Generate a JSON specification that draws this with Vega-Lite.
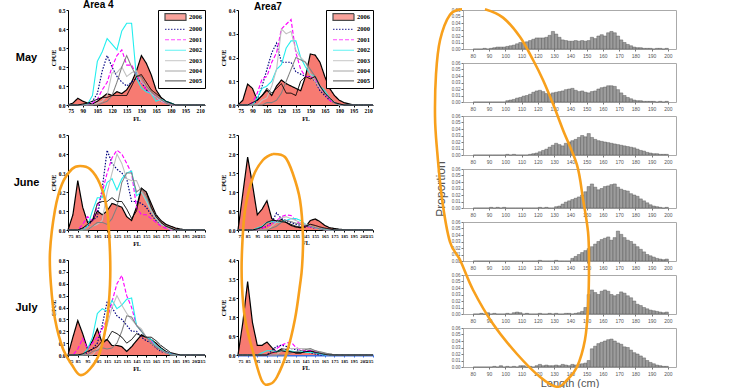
{
"$schema":"https://vega.github.io/schema/vega-lite/v6.json",
"background":"white",
"padding":{"left":0,"top":0,"right":0,"bottom":0},
"config":{
 "view":{"stroke":null},
 "axis":{"labelFont":"Liberation Serif","labelFontWeight":"bold","labelFontSize":5.5,"labelColor":"black","titleFont":"Liberation Serif","titleFontWeight":"bold","titleFontSize":6,"titleColor":"black","domainColor":"black","domainWidth":1,"tickColor":"black","tickSize":2,"labelPadding":1,"titlePadding":2,"grid":false,"labelOverlap":false,"labelBound":false}
},
"datasets":{
"cpue":[
{"p":"M4","x":75,"2006":0,"2000":0,"2001":0,"2002":0,"2003":0,"2004":0,"2005":0},
{"p":"M4","x":80,"2006":0.01,"2000":0,"2001":0,"2002":0,"2003":0,"2004":0,"2005":0},
{"p":"M4","x":85,"2006":0.035,"2000":0,"2001":0,"2002":0,"2003":0,"2004":0,"2005":0},
{"p":"M4","x":90,"2006":0.02,"2000":0,"2001":0,"2002":0,"2003":0,"2004":0,"2005":0.005},
{"p":"M4","x":95,"2006":0.01,"2000":0.005,"2001":0,"2002":0.005,"2003":0,"2004":0,"2005":0.01},
{"p":"M4","x":100,"2006":0.005,"2000":0.02,"2001":0.01,"2002":0.05,"2003":0,"2004":0,"2005":0.02},
{"p":"M4","x":105,"2006":0.02,"2000":0.06,"2001":0.03,"2002":0.23,"2003":0.01,"2004":0,"2005":0.03},
{"p":"M4","x":110,"2006":0.04,"2000":0.18,"2001":0.08,"2002":0.28,"2003":0.02,"2004":0.01,"2005":0.04},
{"p":"M4","x":115,"2006":0.06,"2000":0.26,"2001":0.12,"2002":0.35,"2003":0.05,"2004":0.02,"2005":0.04},
{"p":"M4","x":120,"2006":0.05,"2000":0.2,"2001":0.2,"2002":0.32,"2003":0.17,"2004":0.05,"2005":0.05},
{"p":"M4","x":125,"2006":0.07,"2000":0.15,"2001":0.26,"2002":0.29,"2003":0.17,"2004":0.12,"2005":0.05},
{"p":"M4","x":130,"2006":0.06,"2000":0.12,"2001":0.29,"2002":0.39,"2003":0.2,"2004":0.2,"2005":0.05},
{"p":"M4","x":135,"2006":0.08,"2000":0.1,"2001":0.21,"2002":0.43,"2003":0.15,"2004":0.26,"2005":0.05},
{"p":"M4","x":140,"2006":0.12,"2000":0.12,"2001":0.21,"2002":0.43,"2003":0.17,"2004":0.2,"2005":0.1},
{"p":"M4","x":145,"2006":0.18,"2000":0.14,"2001":0.16,"2002":0.14,"2003":0.18,"2004":0.15,"2005":0.15},
{"p":"M4","x":150,"2006":0.26,"2000":0.12,"2001":0.12,"2002":0.09,"2003":0.12,"2004":0.15,"2005":0.16},
{"p":"M4","x":155,"2006":0.22,"2000":0.08,"2001":0.08,"2002":0.07,"2003":0.1,"2004":0.1,"2005":0.12},
{"p":"M4","x":160,"2006":0.16,"2000":0.06,"2001":0.06,"2002":0.06,"2003":0.06,"2004":0.07,"2005":0.08},
{"p":"M4","x":165,"2006":0.08,"2000":0.04,"2001":0.04,"2002":0.02,"2003":0.04,"2004":0.05,"2005":0.06},
{"p":"M4","x":170,"2006":0.04,"2000":0.02,"2001":0.02,"2002":0.03,"2003":0.02,"2004":0.03,"2005":0.04},
{"p":"M4","x":175,"2006":0.02,"2000":0.01,"2001":0.01,"2002":0.02,"2003":0.01,"2004":0.01,"2005":0.02},
{"p":"M4","x":180,"2006":0.01,"2000":0,"2001":0,"2002":0.01,"2003":0,"2004":0,"2005":0.01},
{"p":"M4","x":185,"2006":0,"2000":0,"2001":0,"2002":0,"2003":0,"2004":0,"2005":0},
{"p":"M4","x":190,"2006":0,"2000":0,"2001":0,"2002":0,"2003":0,"2004":0,"2005":0},
{"p":"M4","x":195,"2006":0,"2000":0,"2001":0,"2002":0,"2003":0,"2004":0,"2005":0},
{"p":"M4","x":200,"2006":0,"2000":0,"2001":0,"2002":0,"2003":0,"2004":0,"2005":0},
{"p":"M4","x":205,"2006":0,"2000":0,"2001":0,"2002":0,"2003":0,"2004":0,"2005":0},
{"p":"M4","x":210,"2006":0,"2000":0,"2001":0,"2002":0,"2003":0,"2004":0,"2005":0},
{"p":"M4","x":215,"2006":0,"2000":0,"2001":0,"2002":0,"2003":0,"2004":0,"2005":0},
{"p":"M7","x":75,"2006":0,"2000":0,"2001":0,"2002":0,"2003":0,"2004":0,"2005":0},
{"p":"M7","x":80,"2006":0.02,"2000":0,"2001":0,"2002":0,"2003":0,"2004":0,"2005":0},
{"p":"M7","x":85,"2006":0.088,"2000":0,"2001":0,"2002":0,"2003":0,"2004":0,"2005":0},
{"p":"M7","x":90,"2006":0.07,"2000":0,"2001":0.01,"2002":0,"2003":0,"2004":0,"2005":0.01},
{"p":"M7","x":95,"2006":0.02,"2000":0.02,"2001":0.05,"2002":0.03,"2003":0,"2004":0,"2005":0.02},
{"p":"M7","x":100,"2006":0.04,"2000":0.08,"2001":0.11,"2002":0.07,"2003":0.02,"2004":0,"2005":0.04},
{"p":"M7","x":105,"2006":0.063,"2000":0.15,"2001":0.12,"2002":0.08,"2003":0.03,"2004":0.01,"2005":0.07},
{"p":"M7","x":110,"2006":0.04,"2000":0.22,"2001":0.18,"2002":0.1,"2003":0.08,"2004":0.01,"2005":0.05},
{"p":"M7","x":115,"2006":0.08,"2000":0.26,"2001":0.22,"2002":0.15,"2003":0.15,"2004":0.02,"2005":0.07},
{"p":"M7","x":120,"2006":0.105,"2000":0.18,"2001":0.32,"2002":0.17,"2003":0.32,"2004":0.05,"2005":0.09},
{"p":"M7","x":125,"2006":0.09,"2000":0.18,"2001":0.34,"2002":0.24,"2003":0.3,"2004":0.1,"2005":0.05},
{"p":"M7","x":130,"2006":0.08,"2000":0.18,"2001":0.36,"2002":0.27,"2003":0.31,"2004":0.15,"2005":0.05},
{"p":"M7","x":135,"2006":0.07,"2000":0.14,"2001":0.22,"2002":0.27,"2003":0.23,"2004":0.2,"2005":0.04},
{"p":"M7","x":140,"2006":0.06,"2000":0.13,"2001":0.15,"2002":0.2,"2003":0.2,"2004":0.19,"2005":0.1},
{"p":"M7","x":145,"2006":0.12,"2000":0.12,"2001":0.12,"2002":0.16,"2003":0.18,"2004":0.18,"2005":0.12},
{"p":"M7","x":150,"2006":0.215,"2000":0.12,"2001":0.12,"2002":0.13,"2003":0.13,"2004":0.15,"2005":0.11},
{"p":"M7","x":155,"2006":0.21,"2000":0.1,"2001":0.11,"2002":0.12,"2003":0.1,"2004":0.12,"2005":0.12},
{"p":"M7","x":160,"2006":0.18,"2000":0.06,"2001":0.07,"2002":0.08,"2003":0.07,"2004":0.08,"2005":0.08},
{"p":"M7","x":165,"2006":0.12,"2000":0.04,"2001":0.05,"2002":0.06,"2003":0.05,"2004":0.05,"2005":0.05},
{"p":"M7","x":170,"2006":0.07,"2000":0.02,"2001":0.02,"2002":0.03,"2003":0.03,"2004":0.03,"2005":0.03},
{"p":"M7","x":175,"2006":0.04,"2000":0.01,"2001":0.01,"2002":0.01,"2003":0.01,"2004":0.01,"2005":0.01},
{"p":"M7","x":180,"2006":0.02,"2000":0,"2001":0,"2002":0,"2003":0,"2004":0,"2005":0.005},
{"p":"M7","x":185,"2006":0.01,"2000":0,"2001":0,"2002":0,"2003":0,"2004":0,"2005":0},
{"p":"M7","x":190,"2006":0.005,"2000":0,"2001":0,"2002":0,"2003":0,"2004":0,"2005":0},
{"p":"M7","x":195,"2006":0,"2000":0,"2001":0,"2002":0,"2003":0,"2004":0,"2005":0},
{"p":"M7","x":200,"2006":0,"2000":0,"2001":0,"2002":0,"2003":0,"2004":0,"2005":0},
{"p":"M7","x":205,"2006":0,"2000":0,"2001":0,"2002":0,"2003":0,"2004":0,"2005":0},
{"p":"M7","x":210,"2006":0,"2000":0,"2001":0,"2002":0,"2003":0,"2004":0,"2005":0},
{"p":"M7","x":215,"2006":0,"2000":0,"2001":0,"2002":0,"2003":0,"2004":0,"2005":0},
{"p":"J4","x":75,"2006":0,"2000":0,"2001":0,"2002":0,"2003":0,"2004":0,"2005":0},
{"p":"J4","x":80,"2006":0.08,"2000":0,"2001":0,"2002":0,"2003":0,"2004":0,"2005":0},
{"p":"J4","x":85,"2006":0.26,"2000":0,"2001":0,"2002":0,"2003":0,"2004":0,"2005":0},
{"p":"J4","x":90,"2006":0.12,"2000":0.01,"2001":0.03,"2002":0,"2003":0,"2004":0,"2005":0.01},
{"p":"J4","x":95,"2006":0.04,"2000":0.02,"2001":0.07,"2002":0.02,"2003":0,"2004":0,"2005":0.03},
{"p":"J4","x":100,"2006":0.05,"2000":0.05,"2001":0.05,"2002":0.1,"2003":0.02,"2004":0.02,"2005":0.05},
{"p":"J4","x":105,"2006":0.1,"2000":0.07,"2001":0.12,"2002":0.17,"2003":0.03,"2004":0.04,"2005":0.14},
{"p":"J4","x":110,"2006":0.08,"2000":0.22,"2001":0.2,"2002":0.17,"2003":0.05,"2004":0.04,"2005":0.15},
{"p":"J4","x":115,"2006":0.1,"2000":0.42,"2001":0.3,"2002":0.25,"2003":0.2,"2004":0.03,"2005":0.15},
{"p":"J4","x":120,"2006":0.14,"2000":0.35,"2001":0.38,"2002":0.27,"2003":0.3,"2004":0.06,"2005":0.17},
{"p":"J4","x":125,"2006":0.13,"2000":0.32,"2001":0.42,"2002":0.21,"2003":0.4,"2004":0.12,"2005":0.15},
{"p":"J4","x":130,"2006":0.12,"2000":0.3,"2001":0.4,"2002":0.27,"2003":0.35,"2004":0.25,"2005":0.15},
{"p":"J4","x":135,"2006":0.07,"2000":0.27,"2001":0.35,"2002":0.3,"2003":0.27,"2004":0.3,"2005":0.11},
{"p":"J4","x":140,"2006":0.05,"2000":0.15,"2001":0.3,"2002":0.31,"2003":0.26,"2004":0.3,"2005":0.06},
{"p":"J4","x":145,"2006":0.12,"2000":0.15,"2001":0.12,"2002":0.18,"2003":0.26,"2004":0.2,"2005":0.1},
{"p":"J4","x":150,"2006":0.22,"2000":0.14,"2001":0.08,"2002":0.2,"2003":0.2,"2004":0.22,"2005":0.22},
{"p":"J4","x":155,"2006":0.2,"2000":0.12,"2001":0.08,"2002":0.16,"2003":0.15,"2004":0.18,"2005":0.2},
{"p":"J4","x":160,"2006":0.14,"2000":0.08,"2001":0.06,"2002":0.1,"2003":0.1,"2004":0.12,"2005":0.12},
{"p":"J4","x":165,"2006":0.08,"2000":0.05,"2001":0.04,"2002":0.06,"2003":0.06,"2004":0.07,"2005":0.07},
{"p":"J4","x":170,"2006":0.05,"2000":0.03,"2001":0.02,"2002":0.03,"2003":0.03,"2004":0.04,"2005":0.04},
{"p":"J4","x":175,"2006":0.03,"2000":0.02,"2001":0.01,"2002":0.02,"2003":0.02,"2004":0.02,"2005":0.02},
{"p":"J4","x":180,"2006":0.02,"2000":0.01,"2001":0,"2002":0.01,"2003":0,"2004":0.01,"2005":0.01},
{"p":"J4","x":185,"2006":0.01,"2000":0,"2001":0,"2002":0,"2003":0,"2004":0,"2005":0},
{"p":"J4","x":190,"2006":0.005,"2000":0,"2001":0,"2002":0,"2003":0,"2004":0,"2005":0},
{"p":"J4","x":195,"2006":0,"2000":0,"2001":0,"2002":0,"2003":0,"2004":0,"2005":0},
{"p":"J4","x":200,"2006":0,"2000":0,"2001":0,"2002":0,"2003":0,"2004":0,"2005":0},
{"p":"J4","x":205,"2006":0,"2000":0,"2001":0,"2002":0,"2003":0,"2004":0,"2005":0},
{"p":"J4","x":210,"2006":0,"2000":0,"2001":0,"2002":0,"2003":0,"2004":0,"2005":0},
{"p":"J4","x":215,"2006":0,"2000":0,"2001":0,"2002":0,"2003":0,"2004":0,"2005":0},
{"p":"J7","x":75,"2006":0,"2000":0,"2001":0,"2002":0,"2003":0,"2004":0,"2005":0},
{"p":"J7","x":80,"2006":0.96,"2000":0,"2001":0,"2002":0,"2003":0,"2004":0,"2005":0},
{"p":"J7","x":85,"2006":1.92,"2000":0,"2001":0,"2002":0,"2003":0,"2004":0,"2005":0},
{"p":"J7","x":90,"2006":1.2,"2000":0,"2001":0,"2002":0,"2003":0,"2004":0,"2005":0},
{"p":"J7","x":95,"2006":0.4,"2000":0,"2001":0,"2002":0.05,"2003":0,"2004":0,"2005":0.03},
{"p":"J7","x":100,"2006":0.55,"2000":0.05,"2001":0.05,"2002":0.1,"2003":0,"2004":0,"2005":0.08},
{"p":"J7","x":105,"2006":0.77,"2000":0.1,"2001":0.1,"2002":0.2,"2003":0,"2004":0,"2005":0.2},
{"p":"J7","x":110,"2006":0.3,"2000":0.2,"2001":0.15,"2002":0.22,"2003":0.1,"2004":0.05,"2005":0.25},
{"p":"J7","x":115,"2006":0.22,"2000":0.45,"2001":0.25,"2002":0.2,"2003":0.2,"2004":0.1,"2005":0.25},
{"p":"J7","x":120,"2006":0.28,"2000":0.3,"2001":0.35,"2002":0.22,"2003":0.32,"2004":0.2,"2005":0.22},
{"p":"J7","x":125,"2006":0.2,"2000":0.25,"2001":0.4,"2002":0.25,"2003":0.35,"2004":0.25,"2005":0.2},
{"p":"J7","x":130,"2006":0.12,"2000":0.2,"2001":0.38,"2002":0.3,"2003":0.3,"2004":0.22,"2005":0.15},
{"p":"J7","x":135,"2006":0.08,"2000":0.15,"2001":0.25,"2002":0.3,"2003":0.25,"2004":0.18,"2005":0.1},
{"p":"J7","x":140,"2006":0.06,"2000":0.12,"2001":0.15,"2002":0.25,"2003":0.2,"2004":0.15,"2005":0.08},
{"p":"J7","x":145,"2006":0.08,"2000":0.1,"2001":0.1,"2002":0.15,"2003":0.15,"2004":0.12,"2005":0.1},
{"p":"J7","x":150,"2006":0.25,"2000":0.08,"2001":0.08,"2002":0.1,"2003":0.1,"2004":0.1,"2005":0.15},
{"p":"J7","x":155,"2006":0.29,"2000":0.05,"2001":0.05,"2002":0.06,"2003":0.06,"2004":0.06,"2005":0.12},
{"p":"J7","x":160,"2006":0.22,"2000":0.03,"2001":0.03,"2002":0.03,"2003":0.03,"2004":0.03,"2005":0.08},
{"p":"J7","x":165,"2006":0.12,"2000":0.02,"2001":0,"2002":0.02,"2003":0,"2004":0,"2005":0.05},
{"p":"J7","x":170,"2006":0.06,"2000":0,"2001":0,"2002":0,"2003":0,"2004":0,"2005":0.03},
{"p":"J7","x":175,"2006":0.04,"2000":0,"2001":0,"2002":0,"2003":0,"2004":0,"2005":0},
{"p":"J7","x":180,"2006":0.02,"2000":0,"2001":0,"2002":0,"2003":0,"2004":0,"2005":0},
{"p":"J7","x":185,"2006":0.01,"2000":0,"2001":0,"2002":0,"2003":0,"2004":0,"2005":0},
{"p":"J7","x":190,"2006":0,"2000":0,"2001":0,"2002":0,"2003":0,"2004":0,"2005":0},
{"p":"J7","x":195,"2006":0,"2000":0,"2001":0,"2002":0,"2003":0,"2004":0,"2005":0},
{"p":"J7","x":200,"2006":0,"2000":0,"2001":0,"2002":0,"2003":0,"2004":0,"2005":0},
{"p":"J7","x":205,"2006":0,"2000":0,"2001":0,"2002":0,"2003":0,"2004":0,"2005":0},
{"p":"J7","x":210,"2006":0,"2000":0,"2001":0,"2002":0,"2003":0,"2004":0,"2005":0},
{"p":"J7","x":215,"2006":0,"2000":0,"2001":0,"2002":0,"2003":0,"2004":0,"2005":0},
{"p":"Y4","x":75,"2006":0,"2000":0,"2001":0,"2002":0,"2003":0,"2004":0,"2005":0},
{"p":"Y4","x":80,"2006":0.15,"2000":0,"2001":0,"2002":0,"2003":0,"2004":0,"2005":0},
{"p":"Y4","x":85,"2006":0.29,"2000":0,"2001":0.05,"2002":0,"2003":0,"2004":0,"2005":0},
{"p":"Y4","x":90,"2006":0.18,"2000":0,"2001":0.14,"2002":0,"2003":0,"2004":0,"2005":0.01},
{"p":"Y4","x":95,"2006":0.05,"2000":0.02,"2001":0.05,"2002":0.05,"2003":0,"2004":0,"2005":0.03},
{"p":"Y4","x":100,"2006":0.12,"2000":0.05,"2001":0.1,"2002":0.15,"2003":0,"2004":0.03,"2005":0.05},
{"p":"Y4","x":105,"2006":0.22,"2000":0.1,"2001":0.15,"2002":0.35,"2003":0.05,"2004":0.04,"2005":0.07},
{"p":"Y4","x":110,"2006":0.1,"2000":0.25,"2001":0.22,"2002":0.39,"2003":0.1,"2004":0.06,"2005":0.12},
{"p":"Y4","x":115,"2006":0.13,"2000":0.45,"2001":0.3,"2002":0.37,"2003":0.25,"2004":0.05,"2005":0.13},
{"p":"Y4","x":120,"2006":0.08,"2000":0.4,"2001":0.45,"2002":0.46,"2003":0.4,"2004":0.06,"2005":0.2},
{"p":"Y4","x":125,"2006":0.08,"2000":0.33,"2001":0.6,"2002":0.39,"2003":0.5,"2004":0.1,"2005":0.18},
{"p":"Y4","x":130,"2006":0.07,"2000":0.3,"2001":0.67,"2002":0.42,"2003":0.42,"2004":0.2,"2005":0.15},
{"p":"Y4","x":135,"2006":0.03,"2000":0.25,"2001":0.5,"2002":0.47,"2003":0.35,"2004":0.33,"2005":0.1},
{"p":"Y4","x":140,"2006":0.07,"2000":0.2,"2001":0.4,"2002":0.48,"2003":0.3,"2004":0.32,"2005":0.13},
{"p":"Y4","x":145,"2006":0.12,"2000":0.2,"2001":0.25,"2002":0.25,"2003":0.25,"2004":0.25,"2005":0.18},
{"p":"Y4","x":150,"2006":0.17,"2000":0.15,"2001":0.2,"2002":0.2,"2003":0.22,"2004":0.2,"2005":0.16},
{"p":"Y4","x":155,"2006":0.15,"2000":0.12,"2001":0.15,"2002":0.15,"2003":0.15,"2004":0.15,"2005":0.15},
{"p":"Y4","x":160,"2006":0.13,"2000":0.1,"2001":0.12,"2002":0.13,"2003":0.1,"2004":0.1,"2005":0.15},
{"p":"Y4","x":165,"2006":0.1,"2000":0.06,"2001":0.08,"2002":0.08,"2003":0.07,"2004":0.07,"2005":0.12},
{"p":"Y4","x":170,"2006":0.06,"2000":0.03,"2001":0.04,"2002":0.05,"2003":0.04,"2004":0.04,"2005":0.08},
{"p":"Y4","x":175,"2006":0.03,"2000":0.02,"2001":0.02,"2002":0.02,"2003":0.02,"2004":0.02,"2005":0.05},
{"p":"Y4","x":180,"2006":0.01,"2000":0.01,"2001":0.01,"2002":0.01,"2003":0,"2004":0,"2005":0.02},
{"p":"Y4","x":185,"2006":0.005,"2000":0,"2001":0,"2002":0,"2003":0,"2004":0,"2005":0.01},
{"p":"Y4","x":190,"2006":0,"2000":0,"2001":0,"2002":0,"2003":0,"2004":0,"2005":0},
{"p":"Y4","x":195,"2006":0,"2000":0,"2001":0,"2002":0,"2003":0,"2004":0,"2005":0},
{"p":"Y4","x":200,"2006":0,"2000":0,"2001":0,"2002":0,"2003":0,"2004":0,"2005":0},
{"p":"Y4","x":205,"2006":0,"2000":0,"2001":0,"2002":0,"2003":0,"2004":0,"2005":0},
{"p":"Y4","x":210,"2006":0,"2000":0,"2001":0,"2002":0,"2003":0,"2004":0,"2005":0},
{"p":"Y4","x":215,"2006":0,"2000":0,"2001":0,"2002":0,"2003":0,"2004":0,"2005":0},
{"p":"Y7","x":75,"2006":0,"2000":0,"2001":0,"2002":0,"2003":0,"2004":0,"2005":0},
{"p":"Y7","x":80,"2006":1.5,"2000":0,"2001":0,"2002":0,"2003":0,"2004":0,"2005":0},
{"p":"Y7","x":85,"2006":3.4,"2000":0,"2001":0,"2002":0,"2003":0,"2004":0,"2005":0},
{"p":"Y7","x":90,"2006":1.5,"2000":0,"2001":0,"2002":0,"2003":0,"2004":0,"2005":0},
{"p":"Y7","x":95,"2006":0.45,"2000":0,"2001":0,"2002":0,"2003":0,"2004":0,"2005":0},
{"p":"Y7","x":100,"2006":0.45,"2000":0,"2001":0,"2002":0.1,"2003":0,"2004":0,"2005":0},
{"p":"Y7","x":105,"2006":0.6,"2000":0,"2001":0,"2002":0.2,"2003":0,"2004":0,"2005":0},
{"p":"Y7","x":110,"2006":0.35,"2000":0.2,"2001":0,"2002":0.2,"2003":0,"2004":0,"2005":0.1},
{"p":"Y7","x":115,"2006":0.15,"2000":0.4,"2001":0.3,"2002":0.15,"2003":0,"2004":0,"2005":0.15},
{"p":"Y7","x":120,"2006":0.28,"2000":0.45,"2001":0.45,"2002":0.2,"2003":0.2,"2004":0,"2005":0.2},
{"p":"Y7","x":125,"2006":0.25,"2000":0.4,"2001":0.55,"2002":0.2,"2003":0.3,"2004":0,"2005":0.15},
{"p":"Y7","x":130,"2006":0.15,"2000":0.3,"2001":0.6,"2002":0.18,"2003":0.3,"2004":0.1,"2005":0.15},
{"p":"Y7","x":135,"2006":0.1,"2000":0.25,"2001":0.35,"2002":0.15,"2003":0.3,"2004":0.15,"2005":0.1},
{"p":"Y7","x":140,"2006":0.1,"2000":0.2,"2001":0.25,"2002":0.15,"2003":0.3,"2004":0.2,"2005":0.1},
{"p":"Y7","x":145,"2006":0.15,"2000":0.15,"2001":0.2,"2002":0.12,"2003":0.3,"2004":0.25,"2005":0.15},
{"p":"Y7","x":150,"2006":0.2,"2000":0.1,"2001":0.2,"2002":0.12,"2003":0.25,"2004":0.3,"2005":0.18},
{"p":"Y7","x":155,"2006":0.18,"2000":0.05,"2001":0.15,"2002":0.1,"2003":0.2,"2004":0.2,"2005":0.12},
{"p":"Y7","x":160,"2006":0.1,"2000":0,"2001":0.05,"2002":0.05,"2003":0.1,"2004":0.15,"2005":0.08},
{"p":"Y7","x":165,"2006":0.05,"2000":0,"2001":0,"2002":0,"2003":0.05,"2004":0.1,"2005":0.03},
{"p":"Y7","x":170,"2006":0.03,"2000":0,"2001":0,"2002":0,"2003":0,"2004":0.05,"2005":0},
{"p":"Y7","x":175,"2006":0.02,"2000":0,"2001":0,"2002":0,"2003":0,"2004":0,"2005":0},
{"p":"Y7","x":180,"2006":0.01,"2000":0,"2001":0,"2002":0,"2003":0,"2004":0,"2005":0},
{"p":"Y7","x":185,"2006":0,"2000":0,"2001":0,"2002":0,"2003":0,"2004":0,"2005":0},
{"p":"Y7","x":190,"2006":0,"2000":0,"2001":0,"2002":0,"2003":0,"2004":0,"2005":0},
{"p":"Y7","x":195,"2006":0,"2000":0,"2001":0,"2002":0,"2003":0,"2004":0,"2005":0},
{"p":"Y7","x":200,"2006":0,"2000":0,"2001":0,"2002":0,"2003":0,"2004":0,"2005":0},
{"p":"Y7","x":205,"2006":0,"2000":0,"2001":0,"2002":0,"2003":0,"2004":0,"2005":0},
{"p":"Y7","x":210,"2006":0,"2000":0,"2001":0,"2002":0,"2003":0,"2004":0,"2005":0},
{"p":"Y7","x":215,"2006":0,"2000":0,"2001":0,"2002":0,"2003":0,"2004":0,"2005":0}
],
"hist":[
{"L":80,"2001":0,"2002":0,"2003":0,"2004":0,"2005":0,"2006":0,"2007":0},
{"L":82,"2001":0,"2002":0,"2003":0,"2004":0,"2005":0,"2006":0,"2007":0},
{"L":84,"2001":0,"2002":0,"2003":0,"2004":0,"2005":0,"2006":0.001,"2007":0},
{"L":86,"2001":0.001,"2002":0,"2003":0,"2004":0,"2005":0,"2006":0,"2007":0},
{"L":88,"2001":0,"2002":0,"2003":0,"2004":0,"2005":0,"2006":0.002,"2007":0},
{"L":90,"2001":0.001,"2002":0,"2003":0,"2004":0.001,"2005":0,"2006":0,"2007":0},
{"L":92,"2001":0.002,"2002":0,"2003":0,"2004":0,"2005":0,"2006":0.001,"2007":0.001},
{"L":94,"2001":0.003,"2002":0,"2003":0,"2004":0.001,"2005":0,"2006":0,"2007":0},
{"L":96,"2001":0.003,"2002":0,"2003":0,"2004":0,"2005":0,"2006":0,"2007":0.002},
{"L":98,"2001":0.003,"2002":0,"2003":0,"2004":0.001,"2005":0,"2006":0,"2007":0},
{"L":100,"2001":0.004,"2002":0.002,"2003":0.001,"2004":0,"2005":0,"2006":0.001,"2007":0.001},
{"L":102,"2001":0.005,"2002":0.003,"2003":0,"2004":0,"2005":0,"2006":0,"2007":0},
{"L":104,"2001":0.006,"2002":0.004,"2003":0.001,"2004":0,"2005":0,"2006":0.002,"2007":0.001},
{"L":106,"2001":0.008,"2002":0.006,"2003":0,"2004":0,"2005":0,"2006":0.003,"2007":0},
{"L":108,"2001":0.01,"2002":0.007,"2003":0,"2004":0,"2005":0,"2006":0.002,"2007":0.002},
{"L":110,"2001":0.009,"2002":0.009,"2003":0,"2004":0,"2005":0,"2006":0,"2007":0.002},
{"L":112,"2001":0.011,"2002":0.01,"2003":0,"2004":0,"2005":0,"2006":0.001,"2007":0},
{"L":114,"2001":0.013,"2002":0.012,"2003":0.001,"2004":0,"2005":0,"2006":0,"2007":0.001},
{"L":116,"2001":0.015,"2002":0.015,"2003":0.002,"2004":0,"2005":0,"2006":0,"2007":0},
{"L":118,"2001":0.017,"2002":0.017,"2003":0.003,"2004":0,"2005":0,"2006":0,"2007":0.002},
{"L":120,"2001":0.017,"2002":0.018,"2003":0.005,"2004":0.001,"2005":0.001,"2006":0.001,"2007":0.004},
{"L":122,"2001":0.017,"2002":0.016,"2003":0.007,"2004":0,"2005":0,"2006":0,"2007":0.002},
{"L":124,"2001":0.018,"2002":0.013,"2003":0.009,"2004":0.001,"2005":0,"2006":0,"2007":0.003},
{"L":126,"2001":0.021,"2002":0.012,"2003":0.012,"2004":0,"2005":0,"2006":0.001,"2007":0.002},
{"L":128,"2001":0.027,"2002":0.014,"2003":0.015,"2004":0,"2005":0,"2006":0,"2007":0.002},
{"L":130,"2001":0.023,"2002":0.015,"2003":0.018,"2004":0.002,"2005":0.001,"2006":0.001,"2007":0.003},
{"L":132,"2001":0.018,"2002":0.016,"2003":0.016,"2004":0.003,"2005":0,"2006":0,"2007":0.002},
{"L":134,"2001":0.014,"2002":0.017,"2003":0.014,"2004":0.006,"2005":0,"2006":0,"2007":0.004},
{"L":136,"2001":0.013,"2002":0.019,"2003":0.018,"2004":0.009,"2005":0,"2006":0.001,"2007":0.003},
{"L":138,"2001":0.012,"2002":0.02,"2003":0.02,"2004":0.011,"2005":0,"2006":0.001,"2007":0.002},
{"L":140,"2001":0.012,"2002":0.021,"2003":0.022,"2004":0.013,"2005":0.004,"2006":0,"2007":0.004},
{"L":142,"2001":0.013,"2002":0.018,"2003":0.024,"2004":0.015,"2005":0.007,"2006":0.001,"2007":0.003},
{"L":144,"2001":0.012,"2002":0.016,"2003":0.027,"2004":0.017,"2005":0.01,"2006":0.002,"2007":0.004},
{"L":146,"2001":0.013,"2002":0.017,"2003":0.03,"2004":0.02,"2005":0.013,"2006":0.004,"2007":0.005},
{"L":148,"2001":0.012,"2002":0.015,"2003":0.028,"2004":0.025,"2005":0.016,"2006":0.01,"2007":0.006},
{"L":150,"2001":0.013,"2002":0.014,"2003":0.033,"2004":0.033,"2005":0.019,"2006":0.03,"2007":0.01},
{"L":152,"2001":0.018,"2002":0.016,"2003":0.027,"2004":0.037,"2005":0.022,"2006":0.037,"2007":0.028},
{"L":154,"2001":0.016,"2002":0.017,"2003":0.024,"2004":0.032,"2005":0.026,"2006":0.033,"2007":0.032},
{"L":156,"2001":0.02,"2002":0.02,"2003":0.022,"2004":0.028,"2005":0.03,"2006":0.03,"2007":0.036},
{"L":158,"2001":0.022,"2002":0.022,"2003":0.021,"2004":0.03,"2005":0.033,"2006":0.035,"2007":0.038},
{"L":160,"2001":0.02,"2002":0.023,"2003":0.02,"2004":0.033,"2005":0.035,"2006":0.037,"2007":0.04},
{"L":162,"2001":0.025,"2002":0.025,"2003":0.019,"2004":0.034,"2005":0.037,"2006":0.035,"2007":0.042},
{"L":164,"2001":0.027,"2002":0.025,"2003":0.018,"2004":0.036,"2005":0.032,"2006":0.03,"2007":0.043},
{"L":166,"2001":0.025,"2002":0.024,"2003":0.017,"2004":0.037,"2005":0.036,"2006":0.028,"2007":0.04},
{"L":168,"2001":0.02,"2002":0.019,"2003":0.016,"2004":0.032,"2005":0.046,"2006":0.03,"2007":0.037},
{"L":170,"2001":0.014,"2002":0.014,"2003":0.015,"2004":0.029,"2005":0.041,"2006":0.034,"2007":0.035},
{"L":172,"2001":0.01,"2002":0.01,"2003":0.014,"2004":0.027,"2005":0.036,"2006":0.032,"2007":0.031},
{"L":174,"2001":0.007,"2002":0.007,"2003":0.013,"2004":0.026,"2005":0.032,"2006":0.028,"2007":0.03},
{"L":176,"2001":0.005,"2002":0.005,"2003":0.012,"2004":0.022,"2005":0.03,"2006":0.025,"2007":0.026},
{"L":178,"2001":0.003,"2002":0.003,"2003":0.011,"2004":0.02,"2005":0.026,"2006":0.02,"2007":0.022},
{"L":180,"2001":0.002,"2002":0.002,"2003":0.009,"2004":0.018,"2005":0.022,"2006":0.015,"2007":0.02},
{"L":182,"2001":0.002,"2002":0.002,"2003":0.007,"2004":0.014,"2005":0.018,"2006":0.013,"2007":0.017},
{"L":184,"2001":0.001,"2002":0.001,"2003":0.006,"2004":0.011,"2005":0.014,"2006":0.01,"2007":0.014},
{"L":186,"2001":0.001,"2002":0.001,"2003":0.004,"2004":0.008,"2005":0.01,"2006":0.008,"2007":0.01},
{"L":188,"2001":0.001,"2002":0.001,"2003":0.003,"2004":0.005,"2005":0.008,"2006":0.006,"2007":0.007},
{"L":190,"2001":0,"2002":0.001,"2003":0.002,"2004":0.003,"2005":0.006,"2006":0.005,"2007":0.005},
{"L":192,"2001":0.001,"2002":0,"2003":0.002,"2004":0.002,"2005":0.004,"2006":0.004,"2007":0.003},
{"L":194,"2001":0.001,"2002":0.001,"2003":0.001,"2004":0.001,"2005":0.003,"2006":0.003,"2007":0.002},
{"L":196,"2001":0,"2002":0,"2003":0.001,"2004":0,"2005":0.002,"2006":0.002,"2007":0.001},
{"L":198,"2001":0.001,"2002":0.001,"2003":0.001,"2004":0.001,"2005":0.003,"2006":0.003,"2007":0.001}
],
"info":[
{"yr":"2001","n":"n = 2407"},{"yr":"2002","n":"n = 2422"},{"yr":"2003","n":"n = 1164"},{"yr":"2004","n":"n = 1522"},{"yr":"2005","n":"n = 952"},{"yr":"2006","n":"n = 1206"},{"yr":"2007","n":"n = 1107"}
],
"ellR":[
{"i":0,"L":87.5,"v":0.5503},{"i":1,"L":98.6,"v":0.5375},{"i":2,"L":109.1,"v":0.5077},{"i":3,"L":117.1,"v":0.4723},{"i":4,"L":123.2,"v":0.4416},{"i":5,"L":129.4,"v":0.4046},{"i":6,"L":135.5,"v":0.3646},{"i":7,"L":144.1,"v":0.3108},{"i":8,"L":147.8,"v":0.2585},{"i":9,"L":150.9,"v":0.2077},{"i":10,"L":151.5,"v":0.1616},{"i":11,"L":150.9,"v":0.0923},{"i":12,"L":149.0,"v":0.0416},{"i":13,"L":144.1,"v":0},{"i":14,"L":138.0,"v":-0.02},{"i":15,"L":131.8,"v":-0.0307},{"i":16,"L":121.4,"v":-0.0154},{"i":17,"L":107.2,"v":0.02},{"i":18,"L":92.5,"v":0.0662},{"i":19,"L":80.2,"v":0.1185},{"i":20,"L":72.2,"v":0.1646},{"i":21,"L":66.0,"v":0.1923},{"i":22,"L":61.1,"v":0.2585},{"i":23,"L":58.0,"v":0.3354},{"i":24,"L":56.8,"v":0.3846},{"i":25,"L":57.4,"v":0.4508},{"i":26,"L":59.9,"v":0.5031},{"i":27,"L":66.0,"v":0.5421},{"i":28,"L":73.4,"v":0.5503}
],
"ell4":[
{"i":0,"x":87.3,"v":1.5916},{"i":1,"x":97.5,"v":1.5663},{"i":2,"x":107.7,"v":1.44},{"i":3,"x":114.9,"v":1.221},{"i":4,"x":117.9,"v":0.8674},{"i":5,"x":117.9,"v":0.5895},{"i":6,"x":114.9,"v":0.3032},{"i":7,"x":107.7,"v":0.0253},{"i":8,"x":97.5,"v":-0.1179},{"i":9,"x":87.3,"v":-0.1684},{"i":10,"x":79.1,"v":-0.0842},{"i":11,"x":69.9,"v":0.0505},{"i":12,"x":61.7,"v":0.3032},{"i":13,"x":57.6,"v":0.5895},{"i":14,"x":56.6,"v":0.8674},{"i":15,"x":61.7,"v":1.221},{"i":16,"x":68.9,"v":1.44},{"i":17,"x":79.1,"v":1.5663},{"i":18,"x":87.3,"v":1.5916}
],
"ell7":[
{"i":0,"x":111.3,"v":9.3095},{"i":1,"x":123.7,"v":9.1706},{"i":2,"x":132.0,"v":8.3832},{"i":3,"x":139.3,"v":7.179},{"i":4,"x":142.4,"v":5.4653},{"i":5,"x":141.4,"v":4.0758},{"i":6,"x":139.3,"v":3.2421},{"i":7,"x":134.1,"v":1.6674},{"i":8,"x":125.8,"v":0.1389},{"i":9,"x":115.4,"v":-1.019},{"i":10,"x":108.2,"v":-1.3432},{"i":11,"x":99.9,"v":-1.2042},{"i":12,"x":90.6,"v":0.1389},{"i":13,"x":82.3,"v":1.6674},{"i":14,"x":79.1,"v":3.2421},{"i":15,"x":79.1,"v":4.7705},{"i":16,"x":82.3,"v":6.7158},{"i":17,"x":90.6,"v":8.2442},{"i":18,"x":100.9,"v":9.0316},{"i":19,"x":111.3,"v":9.3095}
]
},
"spacing":53,
"resolve":{"scale":{"stroke":"independent","strokeDash":"independent","fill":"independent","shape":"independent","strokeWidth":"independent"},"legend":{"stroke":"independent","strokeDash":"independent","fill":"independent","shape":"independent"}},
"hconcat":[
{
"columns":3,
"bounds":"flush",
"spacing":{"row":30,"column":33},
"resolve":{"scale":{"stroke":"independent","strokeDash":"independent","fill":"independent","shape":"independent","strokeWidth":"independent"},"legend":{"stroke":"independent","strokeDash":"independent","fill":"independent","shape":"independent"}},
"concat":[
{"width":35,"height":95,"data":{"values":[{"m":"May"}]},"mark":{"type":"text","font":"Liberation Sans","fontWeight":"bold","fontSize":11,"dx":9},"encoding":{"text":{"field":"m"}}},
{"width":137,"height":95,
 "title":{"text":"Area 4","anchor":"start","frame":"group","dx":15,"offset":-2,"fontSize":10,"font":"Liberation Sans","fontWeight":"bold","color":"black"},
 "encoding":{"x":{"field":"x","type":"quantitative","scale":{"domain":[75,215],"nice":false,"zero":false},"axis":{"values":[75,90,105,120,135,150,165,180,195,210],"title":"FL"}},
  "y":{"field":"v","type":"quantitative","scale":{"domain":[0,0.5],"nice":false},"axis":{"values":[0,0.1,0.2,0.3,0.4,0.5],"format":".1f","title":"CPUE"}}},
 "layer":[
  {"data":{"name":"cpue"},"transform":[{"filter":"datum.p=='M4'"},{"fold":["2006"],"as":["s","v"]}],"mark":{"type":"area"},
   "encoding":{"fill":{"field":"s","type":"nominal","scale":{"domain":["2006","2000","2001","2002","2003","2004","2005"],"range":["#F77B72","transparent","transparent","transparent","transparent","transparent","transparent"]},"legend":{"title":null,"orient":"top-right","offset":0,"padding":3,"strokeColor":"black","fillColor":"white","labelFont":"Liberation Serif","labelFontWeight":"bold","labelFontSize":6.5,"labelColor":"black","rowPadding":2.4,"symbolSize":36,"symbolStrokeWidth":1.2,"labelOffset":20,"symbolOffset":0}}}},
  {"data":{"name":"cpue"},"transform":[{"filter":"datum.p=='M4'"},{"fold":["2006","2000","2001","2002","2003","2004","2005"],"as":["s","v"]}],"mark":{"type":"line"},
   "encoding":{"stroke":{"field":"s","type":"nominal","scale":{"domain":["2006","2000","2001","2002","2003","2004","2005"],"range":["black","#000080","#FF00FF","#22EEEE","#BFBFBF","#808080","black"]},"legend":{"title":null,"orient":"top-right","offset":0,"padding":3,"strokeColor":"black","fillColor":"white","labelFont":"Liberation Serif","labelFontWeight":"bold","labelFontSize":6.5,"labelColor":"black","rowPadding":2.4,"symbolSize":36,"symbolStrokeWidth":1.2,"labelOffset":20,"symbolOffset":0}},
    "strokeDash":{"field":"s","type":"nominal","scale":{"domain":["2006","2000","2001","2002","2003","2004","2005"],"range":[[1,0],[1.5,1.5],[4,2],[1,0],[1,0],[1,0],[1,0]]},"legend":{"title":null,"orient":"top-right","offset":0,"padding":3,"strokeColor":"black","fillColor":"white","labelFont":"Liberation Serif","labelFontWeight":"bold","labelFontSize":6.5,"labelColor":"black","rowPadding":2.4,"symbolSize":36,"symbolStrokeWidth":1.2,"labelOffset":20,"symbolOffset":0}},
    "strokeWidth":{"field":"s","type":"nominal","scale":{"domain":["2006","2000","2001","2002","2003","2004","2005"],"range":[1.2,1,1,1.1,1.2,1.4,1.5]},"legend":null}}},
  {"data":{"name":"cpue"},"transform":[{"filter":"datum.p=='none'"},{"fold":["2006"],"as":["s","v"]}],"mark":{"type":"point"},
   "encoding":{"shape":{"field":"s","type":"nominal","scale":{"domain":["2006","2000","2001","2002","2003","2004","2005"],"range":["M0,-1.1H7V1.1H0Z","M0,0H7","M0,0H7","M0,0H7","M0,0H7","M0,0H7","M0,0H7"]},"legend":{"title":null,"orient":"top-right","offset":0,"padding":3,"strokeColor":"black","fillColor":"white","labelFont":"Liberation Serif","labelFontWeight":"bold","labelFontSize":6.5,"labelColor":"black","rowPadding":2.4,"symbolSize":36,"symbolStrokeWidth":1.2,"labelOffset":20,"symbolOffset":0}}}}
 ]},
{"width":135,"height":95,
 "title":{"text":"Area7","anchor":"start","frame":"group","dx":16,"offset":-4,"fontSize":10,"font":"Liberation Sans","fontWeight":"bold","color":"black"},
 "encoding":{"x":{"field":"x","type":"quantitative","scale":{"domain":[75,215],"nice":false,"zero":false},"axis":{"values":[75,90,105,120,135,150,165,180,195,210],"title":"FL"}},
  "y":{"field":"v","type":"quantitative","scale":{"domain":[0,0.4],"nice":false},"axis":{"values":[0,0.1,0.2,0.3,0.4],"format":".1f","title":"CPUE"}}},
 "layer":[
  {"data":{"name":"cpue"},"transform":[{"filter":"datum.p=='M7'"},{"fold":["2006"],"as":["s","v"]}],"mark":{"type":"area"},
   "encoding":{"fill":{"field":"s","type":"nominal","scale":{"domain":["2006","2000","2001","2002","2003","2004","2005"],"range":["#F77B72","transparent","transparent","transparent","transparent","transparent","transparent"]},"legend":{"title":null,"orient":"top-right","offset":0,"padding":3,"strokeColor":"black","fillColor":"white","labelFont":"Liberation Serif","labelFontWeight":"bold","labelFontSize":6.5,"labelColor":"black","rowPadding":2.4,"symbolSize":36,"symbolStrokeWidth":1.2,"labelOffset":20,"symbolOffset":0}}}},
  {"data":{"name":"cpue"},"transform":[{"filter":"datum.p=='M7'"},{"fold":["2006","2000","2001","2002","2003","2004","2005"],"as":["s","v"]}],"mark":{"type":"line"},
   "encoding":{"stroke":{"field":"s","type":"nominal","scale":{"domain":["2006","2000","2001","2002","2003","2004","2005"],"range":["black","#000080","#FF00FF","#22EEEE","#BFBFBF","#808080","black"]},"legend":{"title":null,"orient":"top-right","offset":0,"padding":3,"strokeColor":"black","fillColor":"white","labelFont":"Liberation Serif","labelFontWeight":"bold","labelFontSize":6.5,"labelColor":"black","rowPadding":2.4,"symbolSize":36,"symbolStrokeWidth":1.2,"labelOffset":20,"symbolOffset":0}},
    "strokeDash":{"field":"s","type":"nominal","scale":{"domain":["2006","2000","2001","2002","2003","2004","2005"],"range":[[1,0],[1.5,1.5],[4,2],[1,0],[1,0],[1,0],[1,0]]},"legend":{"title":null,"orient":"top-right","offset":0,"padding":3,"strokeColor":"black","fillColor":"white","labelFont":"Liberation Serif","labelFontWeight":"bold","labelFontSize":6.5,"labelColor":"black","rowPadding":2.4,"symbolSize":36,"symbolStrokeWidth":1.2,"labelOffset":20,"symbolOffset":0}},
    "strokeWidth":{"field":"s","type":"nominal","scale":{"domain":["2006","2000","2001","2002","2003","2004","2005"],"range":[1.2,1,1,1.1,1.2,1.4,1.5]},"legend":null}}},
  {"data":{"name":"cpue"},"transform":[{"filter":"datum.p=='none'"},{"fold":["2006"],"as":["s","v"]}],"mark":{"type":"point"},
   "encoding":{"shape":{"field":"s","type":"nominal","scale":{"domain":["2006","2000","2001","2002","2003","2004","2005"],"range":["M0,-1.1H7V1.1H0Z","M0,0H7","M0,0H7","M0,0H7","M0,0H7","M0,0H7","M0,0H7"]},"legend":{"title":null,"orient":"top-right","offset":0,"padding":3,"strokeColor":"black","fillColor":"white","labelFont":"Liberation Serif","labelFontWeight":"bold","labelFontSize":6.5,"labelColor":"black","rowPadding":2.4,"symbolSize":36,"symbolStrokeWidth":1.2,"labelOffset":20,"symbolOffset":0}}}}
 ]},
{"width":35,"height":95,"data":{"values":[{"m":"June"}]},"mark":{"type":"text","font":"Liberation Sans","fontWeight":"bold","fontSize":11,"dx":9},"encoding":{"text":{"field":"m"}}},
{"width":137,"height":95,
 "encoding":{"x":{"field":"x","type":"quantitative","scale":{"domain":[75,215],"nice":false,"zero":false},"axis":{"values":[75,85,95,105,115,125,135,145,155,165,175,185,195,205,215],"title":"FL","labelFontSize":5}},
  "y":{"field":"v","type":"quantitative","scale":{"domain":[0,0.5],"nice":false},"axis":{"values":[0,0.1,0.2,0.3,0.4,0.5],"format":".1f","title":"CPUE"}}},
 "layer":[
  {"data":{"name":"cpue"},"transform":[{"filter":"datum.p=='J4'"},{"fold":["2006"],"as":["s","v"]}],"mark":{"type":"area","fill":"#F77B72"}},
  {"data":{"name":"cpue"},"transform":[{"filter":"datum.p=='J4'"},{"fold":["2006","2000","2001","2002","2003","2004","2005"],"as":["s","v"]}],"mark":{"type":"line"},
   "encoding":{"stroke":{"field":"s","type":"nominal","scale":{"domain":["2006","2000","2001","2002","2003","2004","2005"],"range":["black","#000080","#FF00FF","#22EEEE","#BFBFBF","#808080","black"]},"legend":null},
    "strokeDash":{"field":"s","type":"nominal","scale":{"domain":["2006","2000","2001","2002","2003","2004","2005"],"range":[[1,0],[1.5,1.5],[4,2],[1,0],[1,0],[1,0],[1,0]]},"legend":null},
    "strokeWidth":{"field":"s","type":"nominal","scale":{"domain":["2006","2000","2001","2002","2003","2004","2005"],"range":[1.2,1,1,1.1,1.2,1.4,1.5]},"legend":null}}}
 ]},
{"width":135,"height":95,
 "encoding":{"x":{"field":"x","type":"quantitative","scale":{"domain":[75,215],"nice":false,"zero":false},"axis":{"values":[75,85,95,105,115,125,135,145,155,165,175,185,195,205,215],"title":"FL","labelFontSize":4.8}},
  "y":{"field":"v","type":"quantitative","scale":{"domain":[0,2.5],"nice":false},"axis":{"values":[0,0.5,1,1.5,2,2.5],"format":".1f","title":"CPUE"}}},
 "layer":[
  {"data":{"name":"cpue"},"transform":[{"filter":"datum.p=='J7'"},{"fold":["2006"],"as":["s","v"]}],"mark":{"type":"area","fill":"#F77B72"}},
  {"data":{"name":"cpue"},"transform":[{"filter":"datum.p=='J7'"},{"fold":["2006","2000","2001","2002","2003","2004","2005"],"as":["s","v"]}],"mark":{"type":"line"},
   "encoding":{"stroke":{"field":"s","type":"nominal","scale":{"domain":["2006","2000","2001","2002","2003","2004","2005"],"range":["black","#000080","#FF00FF","#22EEEE","#BFBFBF","#808080","black"]},"legend":null},
    "strokeDash":{"field":"s","type":"nominal","scale":{"domain":["2006","2000","2001","2002","2003","2004","2005"],"range":[[1,0],[1.5,1.5],[4,2],[1,0],[1,0],[1,0],[1,0]]},"legend":null},
    "strokeWidth":{"field":"s","type":"nominal","scale":{"domain":["2006","2000","2001","2002","2003","2004","2005"],"range":[1.2,1,1,1.1,1.2,1.4,1.5]},"legend":null}}}
 ]},
{"width":35,"height":95,"data":{"values":[{"m":"July"}]},"mark":{"type":"text","font":"Liberation Sans","fontWeight":"bold","fontSize":11,"dx":9},"encoding":{"text":{"field":"m"}}},
{"width":137,"height":95,
 "encoding":{"x":{"field":"x","type":"quantitative","scale":{"domain":[75,215],"nice":false,"zero":false},"axis":{"values":[75,85,95,105,115,125,135,145,155,165,175,185,195,205,215],"title":"FL","labelFontSize":5}},
  "y":{"field":"v","type":"quantitative","scale":{"domain":[0,0.8],"nice":false},"axis":{"values":[0,0.1,0.2,0.3,0.4,0.5,0.6,0.7,0.8],"format":".1f","title":"CPUE"}}},
 "layer":[
  {"data":{"name":"cpue"},"transform":[{"filter":"datum.p=='Y4'"},{"fold":["2006"],"as":["s","v"]}],"mark":{"type":"area","fill":"#F77B72"}},
  {"data":{"name":"cpue"},"transform":[{"filter":"datum.p=='Y4'"},{"fold":["2006","2000","2001","2002","2003","2004","2005"],"as":["s","v"]}],"mark":{"type":"line"},
   "encoding":{"stroke":{"field":"s","type":"nominal","scale":{"domain":["2006","2000","2001","2002","2003","2004","2005"],"range":["black","#000080","#FF00FF","#22EEEE","#BFBFBF","#808080","black"]},"legend":null},
    "strokeDash":{"field":"s","type":"nominal","scale":{"domain":["2006","2000","2001","2002","2003","2004","2005"],"range":[[1,0],[1.5,1.5],[4,2],[1,0],[1,0],[1,0],[1,0]]},"legend":null},
    "strokeWidth":{"field":"s","type":"nominal","scale":{"domain":["2006","2000","2001","2002","2003","2004","2005"],"range":[1.2,1,1,1.1,1.2,1.4,1.5]},"legend":null}}},
  {"data":{"name":"ell4"},"mark":{"type":"line","stroke":"#F8A01C","strokeWidth":2.6,"clip":false,"interpolate":"cardinal"},"encoding":{"order":{"field":"i","type":"quantitative"}}}
 ]},
{"width":135,"height":95,
 "encoding":{"x":{"field":"x","type":"quantitative","scale":{"domain":[75,215],"nice":false,"zero":false},"axis":{"values":[75,85,95,105,115,125,135,145,155,165,175,185,195,205,215],"title":"FL","labelFontSize":4.8,"domainColor":"#3F6FE0","domainWidth":2,"tickColor":"#3F6FE0"}},
  "y":{"field":"v","type":"quantitative","scale":{"domain":[0,4.4],"nice":false},"axis":{"values":[0,0.88,1.76,2.64,3.52,4.4],"format":".1f","title":"CPUE"}}},
 "layer":[
  {"data":{"name":"cpue"},"transform":[{"filter":"datum.p=='Y7'"},{"fold":["2006"],"as":["s","v"]}],"mark":{"type":"area","fill":"#F77B72"}},
  {"data":{"name":"cpue"},"transform":[{"filter":"datum.p=='Y7'"},{"fold":["2006","2000","2001","2002","2003","2004","2005"],"as":["s","v"]}],"mark":{"type":"line"},
   "encoding":{"stroke":{"field":"s","type":"nominal","scale":{"domain":["2006","2000","2001","2002","2003","2004","2005"],"range":["black","#000080","#FF00FF","#22EEEE","#BFBFBF","#808080","black"]},"legend":null},
    "strokeDash":{"field":"s","type":"nominal","scale":{"domain":["2006","2000","2001","2002","2003","2004","2005"],"range":[[1,0],[1.5,1.5],[4,2],[1,0],[1,0],[1,0],[1,0]]},"legend":null},
    "strokeWidth":{"field":"s","type":"nominal","scale":{"domain":["2006","2000","2001","2002","2003","2004","2005"],"range":[1.2,1,1,1.1,1.2,1.4,1.5]},"legend":null}}},
  {"data":{"name":"ell7"},"mark":{"type":"line","stroke":"#F8A01C","strokeWidth":2.6,"clip":false,"interpolate":"cardinal"},"encoding":{"order":{"field":"i","type":"quantitative"}}}
 ]}
]
},
{
"bounds":"flush",
"spacing":14,
"vconcat":[
{"width":213,"height":39,"view":{"stroke":"#aaaaaa"},
 "encoding":{"x":{"field":"L","type":"quantitative","bin":{"binned":true,"step":2},"scale":{"domain":[74,205],"nice":false,"zero":false},"axis":{"values":[80,90,100,110,120,130,140,150,160,170,180,190,200],"title":null,"domain":false,"labelFont":"Liberation Sans","labelFontWeight":"normal","labelFontSize":5,"labelColor":"#555555","tickColor":"#777777","labelPadding":2}},
  "y":{"field":"v","type":"quantitative","scale":{"domain":[0,0.06],"nice":false},"axis":{"values":[0,0.01,0.02,0.03,0.04,0.05,0.06],"format":".2f","title":null,"domain":false,"labelFont":"Liberation Sans","labelFontWeight":"normal","labelFontSize":4.5,"labelColor":"#555555","tickColor":"#777777"}}},
 "layer":[
  {"data":{"name":"hist"},"transform":[{"fold":["2001"],"as":["yr","v"]}],"mark":{"type":"bar","fill":"#9c9c9c","stroke":"#4a4a4a","strokeWidth":0.4,"binSpacing":0}},
  {"data":{"name":"info"},"transform":[{"filter":"datum.yr=='2001'"}],"mark":{"type":"text","font":"Liberation Sans","fontSize":5,"color":"#555555"},"encoding":{"x":{"datum":187},"y":{"datum":0.054},"text":{"field":"yr"}}},
  {"data":{"name":"info"},"transform":[{"filter":"datum.yr=='2001'"}],"mark":{"type":"text","font":"Liberation Sans","fontSize":5,"color":"#555555"},"encoding":{"x":{"datum":187},"y":{"datum":0.041},"text":{"field":"n"}}}
 ]},
{"width":213,"height":39,"view":{"stroke":"#aaaaaa"},
 "encoding":{"x":{"field":"L","type":"quantitative","bin":{"binned":true,"step":2},"scale":{"domain":[74,205],"nice":false,"zero":false},"axis":{"values":[80,90,100,110,120,130,140,150,160,170,180,190,200],"title":null,"domain":false,"labelFont":"Liberation Sans","labelFontWeight":"normal","labelFontSize":5,"labelColor":"#555555","tickColor":"#777777","labelPadding":2}},
  "y":{"field":"v","type":"quantitative","scale":{"domain":[0,0.06],"nice":false},"axis":{"values":[0,0.01,0.02,0.03,0.04,0.05,0.06],"format":".2f","title":null,"domain":false,"labelFont":"Liberation Sans","labelFontWeight":"normal","labelFontSize":4.5,"labelColor":"#555555","tickColor":"#777777"}}},
 "layer":[
  {"data":{"name":"hist"},"transform":[{"fold":["2002"],"as":["yr","v"]}],"mark":{"type":"bar","fill":"#9c9c9c","stroke":"#4a4a4a","strokeWidth":0.4,"binSpacing":0}},
  {"data":{"name":"info"},"transform":[{"filter":"datum.yr=='2002'"}],"mark":{"type":"text","font":"Liberation Sans","fontSize":5,"color":"#555555"},"encoding":{"x":{"datum":187},"y":{"datum":0.054},"text":{"field":"yr"}}},
  {"data":{"name":"info"},"transform":[{"filter":"datum.yr=='2002'"}],"mark":{"type":"text","font":"Liberation Sans","fontSize":5,"color":"#555555"},"encoding":{"x":{"datum":187},"y":{"datum":0.041},"text":{"field":"n"}}}
 ]},
{"width":213,"height":39,"view":{"stroke":"#aaaaaa"},
 "encoding":{"x":{"field":"L","type":"quantitative","bin":{"binned":true,"step":2},"scale":{"domain":[74,205],"nice":false,"zero":false},"axis":{"values":[80,90,100,110,120,130,140,150,160,170,180,190,200],"title":null,"domain":false,"labelFont":"Liberation Sans","labelFontWeight":"normal","labelFontSize":5,"labelColor":"#555555","tickColor":"#777777","labelPadding":2}},
  "y":{"field":"v","type":"quantitative","scale":{"domain":[0,0.06],"nice":false},"axis":{"values":[0,0.01,0.02,0.03,0.04,0.05,0.06],"format":".2f","title":null,"domain":false,"labelFont":"Liberation Sans","labelFontWeight":"normal","labelFontSize":4.5,"labelColor":"#555555","tickColor":"#777777"}}},
 "layer":[
  {"data":{"name":"hist"},"transform":[{"fold":["2003"],"as":["yr","v"]}],"mark":{"type":"bar","fill":"#9c9c9c","stroke":"#4a4a4a","strokeWidth":0.4,"binSpacing":0}},
  {"data":{"name":"info"},"transform":[{"filter":"datum.yr=='2003'"}],"mark":{"type":"text","font":"Liberation Sans","fontSize":5,"color":"#555555"},"encoding":{"x":{"datum":187},"y":{"datum":0.054},"text":{"field":"yr"}}},
  {"data":{"name":"info"},"transform":[{"filter":"datum.yr=='2003'"}],"mark":{"type":"text","font":"Liberation Sans","fontSize":5,"color":"#555555"},"encoding":{"x":{"datum":187},"y":{"datum":0.041},"text":{"field":"n"}}}
 ]},
{"width":213,"height":39,"view":{"stroke":"#aaaaaa"},
 "encoding":{"x":{"field":"L","type":"quantitative","bin":{"binned":true,"step":2},"scale":{"domain":[74,205],"nice":false,"zero":false},"axis":{"values":[80,90,100,110,120,130,140,150,160,170,180,190,200],"title":null,"domain":false,"labelFont":"Liberation Sans","labelFontWeight":"normal","labelFontSize":5,"labelColor":"#555555","tickColor":"#777777","labelPadding":2}},
  "y":{"field":"v","type":"quantitative","scale":{"domain":[0,0.06],"nice":false},"axis":{"values":[0,0.01,0.02,0.03,0.04,0.05,0.06],"format":".2f","title":"Proportion","titleFont":"Liberation Sans","titleFontWeight":"normal","titleFontSize":12,"titleColor":"#555555","titlePadding":4,"domain":false,"labelFont":"Liberation Sans","labelFontWeight":"normal","labelFontSize":4.5,"labelColor":"#555555","tickColor":"#777777"}}},
 "layer":[
  {"data":{"name":"hist"},"transform":[{"fold":["2004"],"as":["yr","v"]}],"mark":{"type":"bar","fill":"#9c9c9c","stroke":"#4a4a4a","strokeWidth":0.4,"binSpacing":0}},
  {"data":{"name":"info"},"transform":[{"filter":"datum.yr=='2004'"}],"mark":{"type":"text","font":"Liberation Sans","fontSize":5,"color":"#555555"},"encoding":{"x":{"datum":187},"y":{"datum":0.054},"text":{"field":"yr"}}},
  {"data":{"name":"info"},"transform":[{"filter":"datum.yr=='2004'"}],"mark":{"type":"text","font":"Liberation Sans","fontSize":5,"color":"#555555"},"encoding":{"x":{"datum":187},"y":{"datum":0.041},"text":{"field":"n"}}}
 ]},
{"width":213,"height":39,"view":{"stroke":"#aaaaaa"},
 "encoding":{"x":{"field":"L","type":"quantitative","bin":{"binned":true,"step":2},"scale":{"domain":[74,205],"nice":false,"zero":false},"axis":{"values":[80,90,100,110,120,130,140,150,160,170,180,190,200],"title":null,"domain":false,"labelFont":"Liberation Sans","labelFontWeight":"normal","labelFontSize":5,"labelColor":"#555555","tickColor":"#777777","labelPadding":2}},
  "y":{"field":"v","type":"quantitative","scale":{"domain":[0,0.06],"nice":false},"axis":{"values":[0,0.01,0.02,0.03,0.04,0.05,0.06],"format":".2f","title":null,"domain":false,"labelFont":"Liberation Sans","labelFontWeight":"normal","labelFontSize":4.5,"labelColor":"#555555","tickColor":"#777777"}}},
 "layer":[
  {"data":{"name":"hist"},"transform":[{"fold":["2005"],"as":["yr","v"]}],"mark":{"type":"bar","fill":"#9c9c9c","stroke":"#4a4a4a","strokeWidth":0.4,"binSpacing":0}},
  {"data":{"name":"info"},"transform":[{"filter":"datum.yr=='2005'"}],"mark":{"type":"text","font":"Liberation Sans","fontSize":5,"color":"#555555"},"encoding":{"x":{"datum":187},"y":{"datum":0.054},"text":{"field":"yr"}}},
  {"data":{"name":"info"},"transform":[{"filter":"datum.yr=='2005'"}],"mark":{"type":"text","font":"Liberation Sans","fontSize":5,"color":"#555555"},"encoding":{"x":{"datum":187},"y":{"datum":0.041},"text":{"field":"n"}}}
 ]},
{"width":213,"height":39,"view":{"stroke":"#aaaaaa"},
 "encoding":{"x":{"field":"L","type":"quantitative","bin":{"binned":true,"step":2},"scale":{"domain":[74,205],"nice":false,"zero":false},"axis":{"values":[80,90,100,110,120,130,140,150,160,170,180,190,200],"title":null,"domain":false,"labelFont":"Liberation Sans","labelFontWeight":"normal","labelFontSize":5,"labelColor":"#555555","tickColor":"#777777","labelPadding":2}},
  "y":{"field":"v","type":"quantitative","scale":{"domain":[0,0.06],"nice":false},"axis":{"values":[0,0.01,0.02,0.03,0.04,0.05,0.06],"format":".2f","title":null,"domain":false,"labelFont":"Liberation Sans","labelFontWeight":"normal","labelFontSize":4.5,"labelColor":"#555555","tickColor":"#777777"}}},
 "layer":[
  {"data":{"name":"hist"},"transform":[{"fold":["2006"],"as":["yr","v"]}],"mark":{"type":"bar","fill":"#9c9c9c","stroke":"#4a4a4a","strokeWidth":0.4,"binSpacing":0}},
  {"data":{"name":"info"},"transform":[{"filter":"datum.yr=='2006'"}],"mark":{"type":"text","font":"Liberation Sans","fontSize":5,"color":"#555555"},"encoding":{"x":{"datum":187},"y":{"datum":0.054},"text":{"field":"yr"}}},
  {"data":{"name":"info"},"transform":[{"filter":"datum.yr=='2006'"}],"mark":{"type":"text","font":"Liberation Sans","fontSize":5,"color":"#555555"},"encoding":{"x":{"datum":187},"y":{"datum":0.041},"text":{"field":"n"}}}
 ]},
{"width":213,"height":39,"view":{"stroke":"#aaaaaa"},
 "encoding":{"x":{"field":"L","type":"quantitative","bin":{"binned":true,"step":2},"scale":{"domain":[74,205],"nice":false,"zero":false},"axis":{"values":[80,90,100,110,120,130,140,150,160,170,180,190,200],"title":"Length (cm)","titleFont":"Liberation Sans","titleFontWeight":"normal","titleFontSize":11,"titleColor":"#555555","titlePadding":1,"domain":false,"labelFont":"Liberation Sans","labelFontWeight":"normal","labelFontSize":5,"labelColor":"#555555","tickColor":"#777777","labelPadding":2}},
  "y":{"field":"v","type":"quantitative","scale":{"domain":[0,0.06],"nice":false},"axis":{"values":[0,0.01,0.02,0.03,0.04,0.05,0.06],"format":".2f","title":null,"domain":false,"labelFont":"Liberation Sans","labelFontWeight":"normal","labelFontSize":4.5,"labelColor":"#555555","tickColor":"#777777"}}},
 "layer":[
  {"data":{"name":"hist"},"transform":[{"fold":["2007"],"as":["yr","v"]}],"mark":{"type":"bar","fill":"#9c9c9c","stroke":"#4a4a4a","strokeWidth":0.4,"binSpacing":0}},
  {"data":{"name":"info"},"transform":[{"filter":"datum.yr=='2007'"}],"mark":{"type":"text","font":"Liberation Sans","fontSize":5,"color":"#555555"},"encoding":{"x":{"datum":187},"y":{"datum":0.054},"text":{"field":"yr"}}},
  {"data":{"name":"info"},"transform":[{"filter":"datum.yr=='2007'"}],"mark":{"type":"text","font":"Liberation Sans","fontSize":5,"color":"#555555"},"encoding":{"x":{"datum":187},"y":{"datum":0.041},"text":{"field":"n"}}},
  {"data":{"name":"ellR"},"mark":{"type":"line","stroke":"#F8A01C","strokeWidth":2.6,"clip":false,"interpolate":"cardinal"},"encoding":{"x":{"field":"L","type":"quantitative"},"order":{"field":"i","type":"quantitative"}}}
 ]}
]
}
]
}
